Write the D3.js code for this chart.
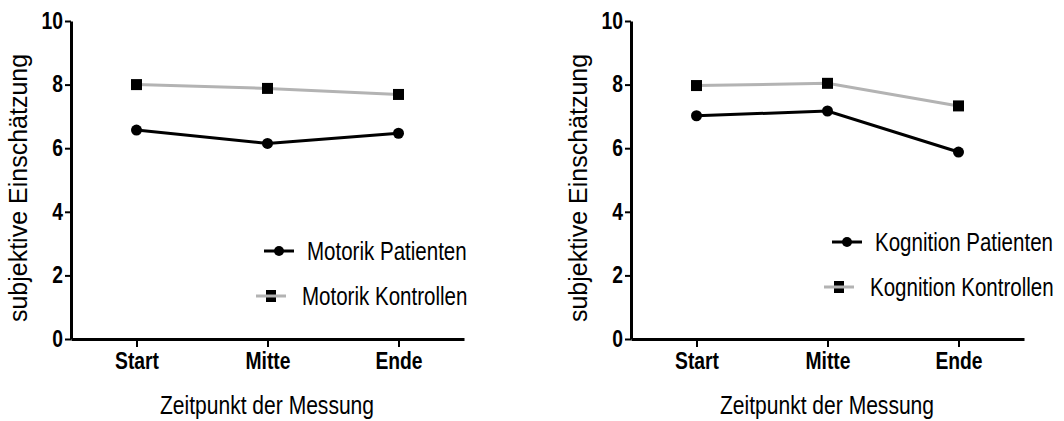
<!DOCTYPE html>
<html>
<head>
<meta charset="utf-8">
<script src="https://cdn.jsdelivr.net/npm/d3@7"></script>
<style>
  body { margin: 0; background: #fff; }
  svg { display: block; }
  text { font-family: "Liberation Sans", Arial, sans-serif; }
</style>
</head>
<body>
<div id="chart"></div>
<script>
const phases = ["Start", "Mitte", "Ende"];
const yTicks = [0, 2, 4, 6, 8, 10];

const motorikPatienten = [6.57, 6.15, 6.47];
const motorikKontrollen = [8.0, 7.88, 7.69];
const kognitionPatienten = [7.02, 7.17, 5.88];
const kognitionKontrollen = [7.97, 8.04, 7.33];

const yTitle = "subjektive Einschätzung";
const xTitle = "Zeitpunkt der Messung";

const width = 1064, height = 421;
const gray = "#b3b3b3";

const svg = d3.select("#chart").append("svg")
    .attr("width", width)
    .attr("height", height);

const y = d3.scaleLinear().domain([0, 10]).range([339, 21]);

// the original uses a narrow face; squeeze the regular one instead
function narrow(sel, k = 0.8) {
  sel.each(function() {
    const t = d3.select(this);
    const x = +t.attr("x") || 0;
    t.attr("x", x / k).attr("transform", `scale(${k},1)`);
  });
}

function panel(dx, patienten, kontrollen, names, leg) {
  const g = svg.append("g").attr("transform", `translate(${dx},0)`);
  const x = d3.scalePoint().domain(phases).range([71, 464]).padding(0.5);

  // axes
  g.append("g")
      .attr("transform", "translate(71,0)")
      .call(d3.axisLeft(y).tickValues(yTicks).tickSize(6).tickSizeOuter(0).tickPadding(2))
      .call(a => a.select(".domain").attr("stroke-width", 3))
      .call(a => a.selectAll(".tick line").attr("stroke-width", 2))
      .call(a => a.selectAll("text")
          .attr("font-family", "'Liberation Sans', Arial, sans-serif")
          .attr("font-size", 23)
          .attr("font-weight", "bold")
          .attr("fill", "#000")
          .call(narrow, 0.84));

  g.append("g")
      .attr("transform", "translate(0,339)")
      .call(d3.axisBottom(x).tickSize(8).tickSizeOuter(0).tickPadding(6))
      .call(a => a.select(".domain").attr("stroke-width", 3))
      .call(a => a.selectAll(".tick line").attr("stroke-width", 2))
      .call(a => a.selectAll("text")
          .attr("font-family", "'Liberation Sans', Arial, sans-serif")
          .attr("font-size", 23)
          .attr("font-weight", "bold")
          .attr("fill", "#000")
          .call(narrow, 0.84));

  // titles
  g.append("text")
      .attr("x", 267)
      .attr("y", 414)
      .attr("text-anchor", "middle")
      .attr("font-size", 26)
      .text(xTitle)
      .call(narrow, 0.81);

  g.append("text")
      .attr("transform", "translate(27,188) rotate(-90)")
      .attr("text-anchor", "middle")
      .attr("font-size", 25)
      .text(yTitle);

  const line = d3.line()
      .x((d, i) => x(phases[i]))
      .y(d => y(d));

  // Kontrollen (gray, squares)
  g.append("path")
      .datum(kontrollen)
      .attr("fill", "none")
      .attr("stroke", gray)
      .attr("stroke-width", 3)
      .attr("d", line);
  g.append("g")
    .selectAll("rect")
    .data(kontrollen)
    .join("rect")
      .attr("x", (d, i) => x(phases[i]) - 5.5)
      .attr("y", d => y(d) - 5.5)
      .attr("width", 11)
      .attr("height", 11)
      .attr("fill", "#000");

  // Patienten (black, circles)
  g.append("path")
      .datum(patienten)
      .attr("fill", "none")
      .attr("stroke", "#000")
      .attr("stroke-width", 3)
      .attr("d", line);
  g.append("g")
    .selectAll("circle")
    .data(patienten)
    .join("circle")
      .attr("cx", (d, i) => x(phases[i]))
      .attr("cy", d => y(d))
      .attr("r", 5.5)
      .attr("fill", "#000");

  // legend
  const l = g.append("g").attr("transform", `translate(${leg[0]},${leg[1]})`);
  const p = l.append("g");
  p.append("line").attr("x1", -15).attr("x2", 15).attr("stroke", "#000").attr("stroke-width", 3);
  p.append("circle").attr("r", 5).attr("fill", "#000");
  p.append("text")
      .attr("x", 28)
      .attr("dy", "0.35em")
      .attr("font-size", 26)
      .text(names[0])
      .call(narrow, 0.79);

  const k = l.append("g").attr("transform", "translate(-8,45)");
  k.append("rect").attr("x", -5).attr("y", -6).attr("width", 10).attr("height", 12).attr("fill", "#000");
  k.append("line").attr("x1", -15).attr("x2", 15).attr("stroke", gray).attr("stroke-width", 3);
  k.append("text")
      .attr("x", 31)
      .attr("dy", "0.35em")
      .attr("font-size", 26)
      .text(names[1])
      .call(narrow, 0.79);
}

panel(0, motorikPatienten, motorikKontrollen,
      ["Motorik Patienten", "Motorik Kontrollen"], [279, 251]);
panel(560, kognitionPatienten, kognitionKontrollen,
      ["Kognition Patienten", "Kognition Kontrollen"], [287, 242]);
</script>
</body>
</html>
